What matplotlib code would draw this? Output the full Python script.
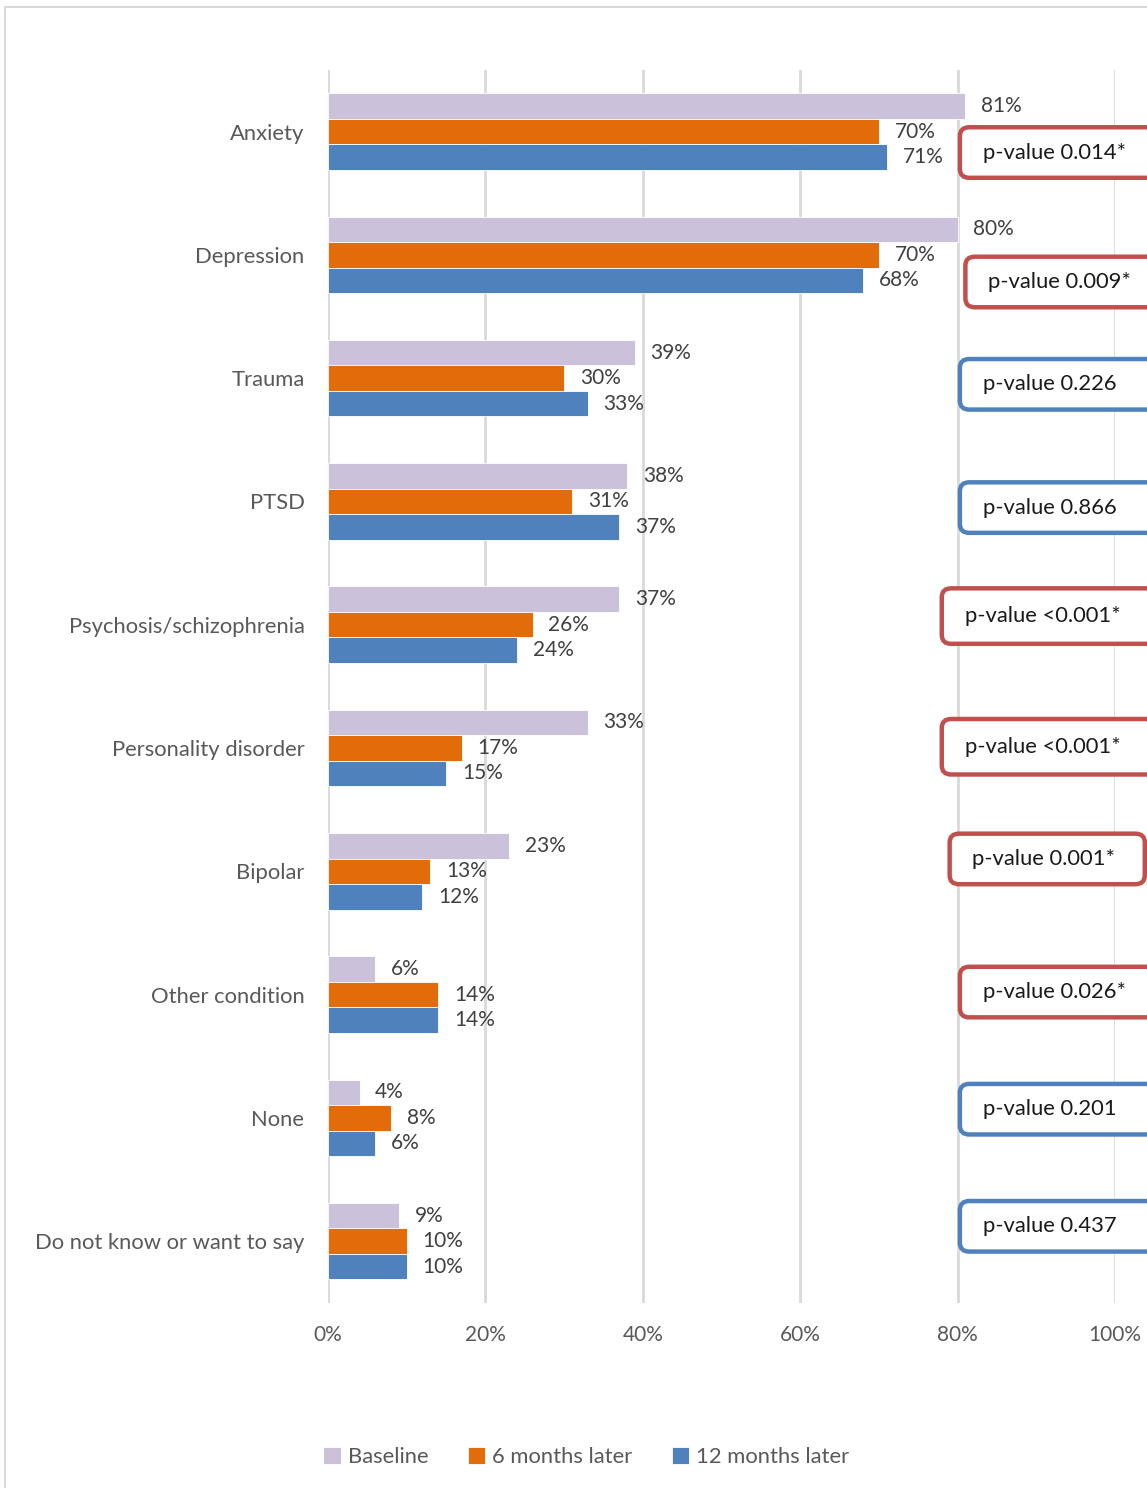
import matplotlib.pyplot as plt
from matplotlib.patches import FancyBboxPatch, Rectangle
import numpy as np

plt.rcParams['font.family'] = ['Lato', 'DejaVu Sans']

categories = ["Anxiety", "Depression", "Trauma", "PTSD", "Psychosis/schizophrenia",
              "Personality disorder", "Bipolar", "Other condition", "None",
              "Do not know or want to say"]
baseline = [81, 80, 39, 38, 37, 33, 23, 6, 4, 9]
months_6 = [70, 70, 30, 31, 26, 17, 13, 14, 8, 10]
months_12 = [71, 68, 33, 37, 24, 15, 12, 14, 6, 10]
p_values = ["p-value 0.014*", "p-value 0.009*", "p-value 0.226", "p-value 0.866",
            "p-value <0.001*", "p-value <0.001*", "p-value 0.001*", "p-value 0.026*",
            "p-value 0.201", "p-value 0.437"]
significant = [True, True, False, False, True, True, True, True, False, False]

c_base = '#CCC1DA'
c_6 = '#E36C0A'
c_12 = '#4F81BD'
c_red = '#C0504D'

fig = plt.figure(figsize=(11.47, 14.88), dpi=100)
ax = fig.add_axes([0.286, 0.1245, 0.686, 0.8285])

y = np.arange(len(categories))
h = 0.207
series = [(baseline, c_base, 'Baseline', -h),
          (months_6, c_6, '6 months later', 0),
          (months_12, c_12, '12 months later', h)]
for vals, col, lab, off in series:
    ax.barh(y + off, vals, height=h, color=col, edgecolor='white', linewidth=0.6,
            label=lab, zorder=3)
    for yi, v in zip(y, vals):
        ax.text(v + 2.0, yi + off, f"{v}%", va='center', ha='left',
                fontsize=15, color='#404040', zorder=4)

ax.set_xlim(0, 100)
ax.set_ylim(len(categories) - 0.5, -0.5)
ax.set_xticks(range(0, 101, 20))
ax.set_xticklabels([f"{t}%" for t in range(0, 101, 20)])
ax.set_yticks(y)
ax.set_yticklabels(categories)
ax.tick_params(axis='both', length=0, labelsize=15, labelcolor='#595959')
ax.tick_params(axis='y', labelsize=15.8, pad=17)
ax.tick_params(axis='x', pad=16)
ax.grid(axis='x', color='#D9D9D9', linewidth=2, zorder=0)
ax.set_axisbelow(True)
for s in ax.spines.values():
    s.set_visible(False)

# p-value call-outs on the right; (left edge in %, vertical offset, right edge in %)
box_spots = [(80.3, 0.17, 106), (81.0, 0.22, 106), (80.3, 0.05, 106), (80.3, 0.05, 106),
             (78.0, -0.07, 106), (78.0, -0.01, 106), (79.0, -0.1, 103.8),
             (80.3, -0.02, 106), (80.3, -0.07, 106), (80.3, -0.12, 106)]
for yi, (x0, dy, x1), txt, sig in zip(y, box_spots, p_values, significant):
    col = c_red if sig else c_12
    bh = 0.45 if yi in (4, 5) else 0.41
    box = FancyBboxPatch((x0, yi + dy - bh / 2), x1 - x0, bh,
                         boxstyle='round,pad=0,rounding_size=1.2',
                         mutation_aspect=0.06,
                         facecolor='white', edgecolor=col, linewidth=3.2,
                         clip_on=False, zorder=5)
    ax.add_patch(box)
    ax.text(x0 + 2.9, yi + dy, txt,
            va='center', ha='left', fontsize=15.8, color='#1a1a1a',
            clip_on=False, zorder=6)

leg = fig.legend(loc='center', bbox_to_anchor=(0.511, 0.021), ncol=3, frameon=False,
                 fontsize=15.8, handlelength=0.8, handleheight=0.8, handletextpad=0.3,
                 columnspacing=1.8)
for t in leg.get_texts():
    t.set_color('#595959')

# light outer frame
fig.add_artist(Rectangle((5 / 1147, -0.01), 1.2, 1 - 7 / 1488 + 0.01,
                         transform=fig.transFigure, fill=False,
                         edgecolor='#D9D9D9', linewidth=1.5))

fig.savefig('out.png', dpi=100)
